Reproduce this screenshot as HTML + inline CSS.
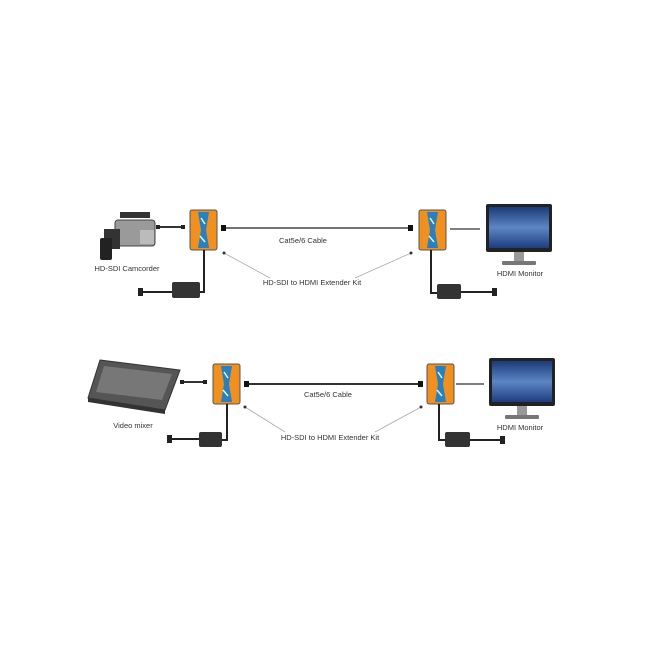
<!DOCTYPE html>
<html><head><style>
body{margin:0;background:#fff;width:650px;height:650px;overflow:hidden}
text{font-family:"Liberation Sans",sans-serif;fill:#333}
</style></head><body>
<svg width="650" height="650" xmlns="http://www.w3.org/2000/svg">
<defs>
<linearGradient id="scr" x1="0" y1="0" x2="0" y2="1"><stop offset="0" stop-color="#1b3a78"/><stop offset="0.5" stop-color="#5d86c4"/><stop offset="1" stop-color="#1d3d80"/></linearGradient>
<g id="box">
<rect x="0" y="0" width="27" height="40" rx="2" fill="#f0901e" stroke="#555" stroke-width="1"/>
<path d="M8 2 L19 2 L16 20 L19 38 L8 38 L11 20 Z" fill="#2a7fc0"/>
<path d="M11 8 L15 14 M10 26 L15 32" stroke="#cfe" stroke-width="1.5"/>
</g>
<g id="mon">
<rect x="0" y="0" width="66" height="48" rx="2" fill="#222"/>
<rect x="3" y="3" width="60" height="41" fill="url(#scr)"/>
<rect x="28" y="48" width="10" height="9" fill="#999"/>
<rect x="16" y="57" width="34" height="4" rx="1" fill="#777"/>
</g>
</defs>

<!-- TOP ROW -->
<!-- camcorder -->
<g>
<rect x="115" y="220" width="40" height="26" rx="3" fill="#9a9a9a" stroke="#444"/>
<rect x="104" y="229" width="16" height="20" fill="#333"/>
<rect x="100" y="238" width="12" height="22" rx="2" fill="#222"/>
<rect x="120" y="212" width="30" height="6" fill="#333"/>
<rect x="140" y="230" width="14" height="14" fill="#bbb"/>
</g>
<line x1="158" y1="227" x2="183" y2="227" stroke="#333" stroke-width="2"/>
<rect x="156" y="225" width="4" height="4" fill="#222"/><rect x="181" y="225" width="4" height="4" fill="#222"/>
<use href="#box" x="190" y="210"/>
<line x1="224" y1="228" x2="410" y2="228" stroke="#444" stroke-width="1.5"/>
<rect x="221" y="225" width="5" height="6" fill="#111"/><rect x="408" y="225" width="5" height="6" fill="#111"/>
<use href="#box" x="419" y="210"/>
<line x1="450" y1="229" x2="480" y2="229" stroke="#555" stroke-width="1.5"/>
<use href="#mon" x="486" y="204"/>
<text x="303" y="243" font-size="7.5" text-anchor="middle">Cat5e/6 Cable</text>
<text x="312" y="285" font-size="7.5" text-anchor="middle">HD-SDI to HDMI Extender Kit</text>
<text x="127" y="271" font-size="7.5" text-anchor="middle">HD-SDI Camcorder</text>
<text x="520" y="276" font-size="7.5" text-anchor="middle">HDMI Monitor</text>
<line x1="270" y1="278" x2="224" y2="253" stroke="#aaa" stroke-width="0.8"/>
<line x1="355" y1="278" x2="411" y2="253" stroke="#aaa" stroke-width="0.8"/>
<circle cx="224" cy="253" r="1.5" fill="#333"/><circle cx="411" cy="253" r="1.5" fill="#333"/>
<!-- power top -->
<path d="M204 250 L204 292 L200 292" stroke="#222" stroke-width="2" fill="none"/>
<rect x="172" y="282" width="28" height="16" rx="2" fill="#333"/>
<line x1="140" y1="292" x2="172" y2="292" stroke="#222" stroke-width="2"/>
<rect x="138" y="288" width="5" height="8" fill="#222"/>
<path d="M431 250 L431 293 L437 293" stroke="#222" stroke-width="2" fill="none"/>
<rect x="437" y="284" width="24" height="15" rx="2" fill="#333"/>
<line x1="461" y1="292" x2="495" y2="292" stroke="#222" stroke-width="2"/>
<rect x="492" y="288" width="5" height="8" fill="#222"/>

<!-- BOTTOM ROW -->
<g>
<path d="M100 360 L180 370 L165 410 L88 398 Z" fill="#555" stroke="#333"/>
<path d="M104 366 L172 374 L162 400 L96 392 Z" fill="#777"/>
<path d="M88 398 L165 410 L165 414 L88 402 Z" fill="#333"/>
</g>
<line x1="182" y1="382" x2="205" y2="382" stroke="#333" stroke-width="2"/>
<rect x="180" y="380" width="4" height="4" fill="#222"/><rect x="203" y="380" width="4" height="4" fill="#222"/>
<use href="#box" x="213" y="364"/>
<line x1="248" y1="384" x2="420" y2="384" stroke="#333" stroke-width="2"/>
<rect x="244" y="381" width="5" height="6" fill="#111"/><rect x="418" y="381" width="5" height="6" fill="#111"/>
<use href="#box" x="427" y="364"/>
<line x1="456" y1="384" x2="484" y2="384" stroke="#555" stroke-width="1.5"/>
<use href="#mon" x="489" y="358"/>
<text x="328" y="397" font-size="7.5" text-anchor="middle">Cat5e/6 Cable</text>
<text x="330" y="440" font-size="7.5" text-anchor="middle">HD-SDI to HDMI Extender Kit</text>
<text x="133" y="428" font-size="7.5" text-anchor="middle">Video mixer</text>
<text x="520" y="430" font-size="7.5" text-anchor="middle">HDMI Monitor</text>
<line x1="285" y1="432" x2="245" y2="407" stroke="#aaa" stroke-width="0.8"/>
<line x1="375" y1="432" x2="421" y2="407" stroke="#aaa" stroke-width="0.8"/>
<circle cx="245" cy="407" r="1.5" fill="#333"/><circle cx="421" cy="407" r="1.5" fill="#333"/>
<path d="M227 404 L227 440 L222 440" stroke="#222" stroke-width="2" fill="none"/>
<rect x="199" y="432" width="23" height="15" rx="2" fill="#333"/>
<line x1="170" y1="439" x2="199" y2="439" stroke="#222" stroke-width="2"/>
<rect x="167" y="435" width="5" height="8" fill="#222"/>
<path d="M439 404 L439 440 L445 440" stroke="#222" stroke-width="2" fill="none"/>
<rect x="445" y="432" width="25" height="15" rx="2" fill="#333"/>
<line x1="470" y1="440" x2="502" y2="440" stroke="#222" stroke-width="2"/>
<rect x="500" y="436" width="5" height="8" fill="#222"/>
</svg>
</body></html>
